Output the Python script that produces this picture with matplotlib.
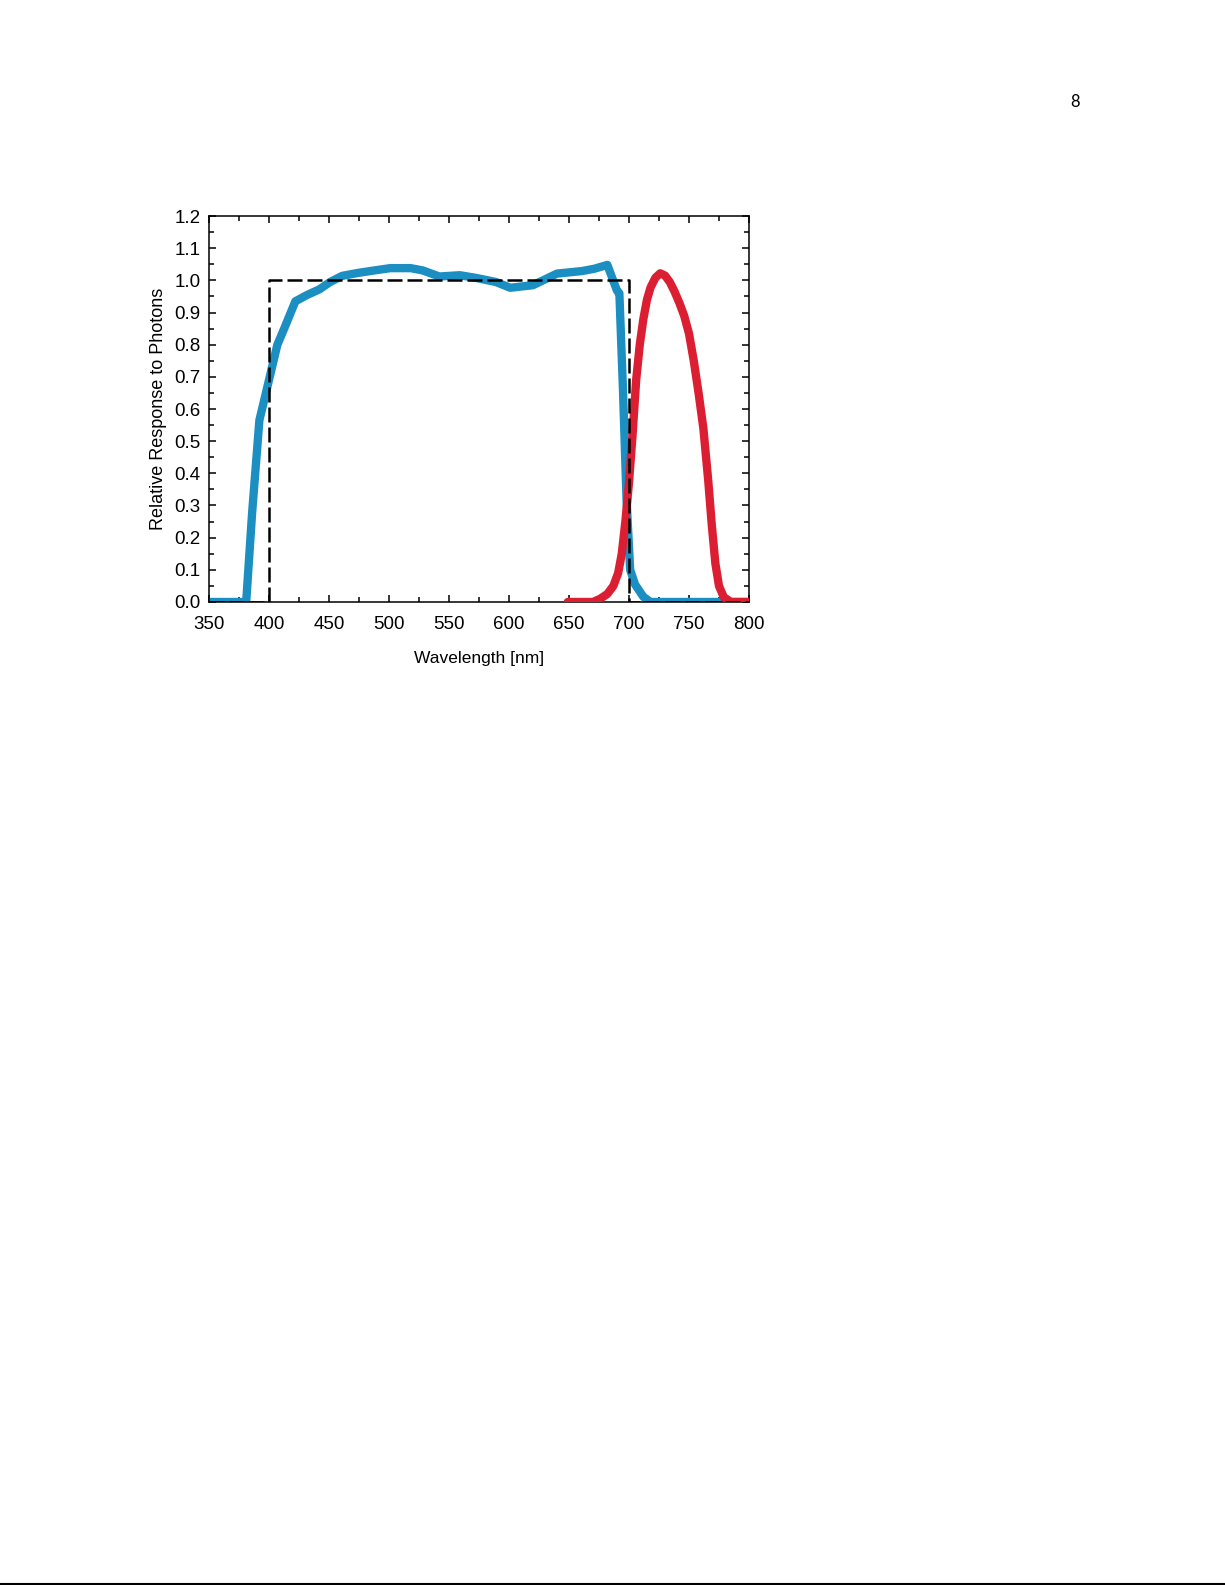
import numpy as np
import matplotlib
matplotlib.use("Agg")
import matplotlib.pyplot as plt
from matplotlib.lines import Line2D
from matplotlib.ticker import MultipleLocator

plt.rcParams['font.family'] = ['Liberation Sans', 'DejaVu Sans']

# blue curve (sensor response)
blue_wl = [350, 381, 386, 392, 400, 407, 413, 422, 432, 442, 451, 461, 474, 488,
           501, 518, 528, 542, 559, 572, 589, 601, 620, 640, 661, 671, 682,
           690, 692, 695, 698, 701, 705, 712, 718, 800]
blue_val = [0.0, 0.0, 0.28, 0.565, 0.69, 0.80, 0.853, 0.935, 0.955, 0.972, 0.995, 1.014,
            1.023, 1.031, 1.038, 1.038, 1.031, 1.012, 1.016, 1.008, 0.995, 0.977,
            0.985, 1.021, 1.029, 1.036, 1.048, 0.968, 0.96, 0.66, 0.317, 0.10,
            0.055, 0.016, 0.0, 0.0]

# red curve
red_wl = [649, 670, 676, 682, 687, 691, 694, 697, 700, 703, 706, 709, 712, 715,
          718, 722, 726, 730, 734, 738, 742, 746, 750, 754, 758, 762, 766, 769,
          772, 775, 779, 785, 800]
red_val = [0.0, 0.0, 0.01, 0.025, 0.05, 0.09, 0.15, 0.25, 0.37, 0.52, 0.69, 0.80,
           0.88, 0.94, 0.978, 1.008, 1.022, 1.015, 0.995, 0.965, 0.93, 0.89, 0.835,
           0.75, 0.65, 0.54, 0.38, 0.24, 0.12, 0.05, 0.015, 0.0, 0.0]

# ideal band (dashed)
box_wl = [350, 400, 400, 700, 700, 800]
box_val = [0, 0, 1.0, 1.0, 0, 0]

fig = plt.figure(figsize=(12.25, 15.85), dpi=100)
ax = fig.add_axes([0.1706, 0.6202, 0.4408, 0.2435])

ax.plot(blue_wl, blue_val, color='#1b8ec2', lw=6, solid_joinstyle='round',
        solid_capstyle='round', zorder=2)
ax.plot(red_wl, red_val, color='#dc1e32', lw=6, solid_joinstyle='round',
        solid_capstyle='round', zorder=3)
ax.plot(box_wl, box_val, color='black', lw=1.8, linestyle=(0, (6, 2)), zorder=4)

ax.set_xlim(350, 800)
ax.set_ylim(0, 1.2)
ax.xaxis.set_major_locator(MultipleLocator(50))
ax.xaxis.set_minor_locator(MultipleLocator(25))
ax.yaxis.set_major_locator(MultipleLocator(0.1))
ax.yaxis.set_minor_locator(MultipleLocator(0.05))
ax.yaxis.set_major_formatter(matplotlib.ticker.FormatStrFormatter('%.1f'))
ax.tick_params(which='both', direction='in', top=True, right=True, width=1.1, labelsize=13.5)
ax.tick_params(which='major', length=5)
ax.tick_params(which='minor', length=3.5)
ax.tick_params(axis='x', which='major', pad=10)
ax.tick_params(axis='y', which='major', pad=6)
for s in ax.spines.values():
    s.set_linewidth(1.1)

ax.set_xlabel('Wavelength [nm]', fontsize=12.5, labelpad=13)
ax.set_ylabel('Relative Response to Photons', fontsize=13, labelpad=5)

fig.text(1075 / 1225, 1 - 102 / 1585, '8', fontsize=12, family=['Lato', 'DejaVu Sans'],
         ha='center', va='center')
fig.add_artist(Line2D([0, 1], [1 - 1583.5 / 1585] * 2, color='black', lw=1.5,
                      transform=fig.transFigure))

fig.savefig('out.png', dpi=100)
